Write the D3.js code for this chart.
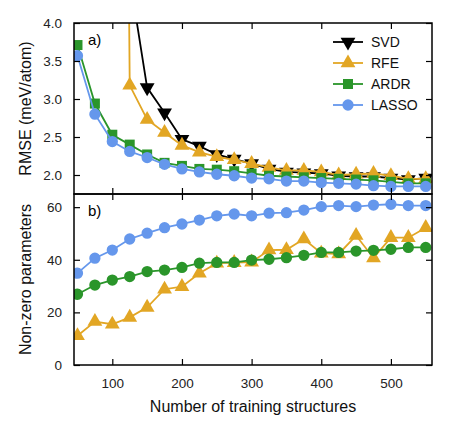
<!DOCTYPE html>
<html>
<head>
<meta charset="utf-8">
<script src="https://cdn.jsdelivr.net/npm/d3@7"></script>
<style>
  html, body { margin: 0; padding: 0; background: #fff; }
  svg { display: block; font-family: "Liberation Sans", Arial, Helvetica, sans-serif; }
</style>
</head>
<body>
<svg id="chart" width="450" height="435"></svg>
<script>
// ---- data ----
const trainingSizes = [50,75,100,125,150,175,200,225,250,275,300,325,350,375,400,425,450,475,500,525,550];
const rmseSVD   = [null,null,null,4.6,3.15,2.82,2.47,2.38,2.27,2.21,2.15,2.08,2.04,2.03,2.02,1.99,1.98,1.98,1.96,1.94,1.96];
const rmseRFE   = [null,null,30,3.18,2.73,2.56,2.39,2.30,2.24,2.20,2.15,2.10,2.06,2.06,2.04,2.00,2.01,2.02,1.99,1.95,1.95];
const rmseARDR  = [3.71,2.94,2.53,2.40,2.27,2.16,2.12,2.08,2.07,2.05,2.02,1.99,1.98,1.97,1.96,1.95,1.94,1.93,1.91,1.89,1.89];
const rmseLASSO = [3.57,2.80,2.44,2.31,2.23,2.14,2.08,2.04,2.01,1.99,1.96,1.95,1.92,1.92,1.90,1.89,1.88,1.86,1.85,1.85,1.85];
const nzRFE   = [11.1,16.5,15.5,18.1,21.9,28.8,29.8,34.9,38.7,38.9,39.1,43.7,43.8,47.9,42.5,42.2,49.2,40.7,48.4,48.4,52.2];
const nzARDR  = [26.9,30.4,32.3,33.6,35.5,36.1,37.1,38.7,39.0,39.0,39.9,40.2,40.8,41.7,42.8,42.8,43.3,43.6,44.0,44.7,44.7];
const nzLASSO = [34.9,40.6,43.7,47.9,50.1,52.2,53.6,55.1,56.7,57.4,56.7,57.7,57.9,58.9,60.2,60.6,60.2,60.8,61.1,60.6,60.6];
const xTicks = [100,200,300,400,500];
const rmseTicks = [2.0,2.5,3.0,3.5,4.0];
const nzTicks = [0,20,40,60];
const methods = ["SVD","RFE","ARDR","LASSO"];
const colors = {SVD:"#000000", RFE:"#e2a624", ARDR:"#2a952a", LASSO:"#6597ec"};
const symbolsTop = {SVD:"tridown", RFE:"triup", ARDR:"square", LASSO:"circle"};
const symbolsBot = {RFE:"triup", ARDR:"circle", LASSO:"circle"};

// ---- layout ----
const L = 74, R = 432, T1 = 23, B1 = 194, T2 = 194, B2 = 365;
const svg = d3.select("#chart");
const x = d3.scaleLinear().domain([45, 559]).range([L, R]);
const yTop = d3.scaleLinear().domain([1.75, 4.0]).range([B1, T1]);
const yBot = d3.scaleLinear().domain([0, 65]).range([B2, T2]);
const font = "13.5px";

function symPath(kind) {
  if (kind === "circle") return d3.symbol(d3.symbolCircle, 100)();
  if (kind === "square") return d3.symbol(d3.symbolSquare, 100)();
  return d3.symbol(d3.symbolTriangle, 95)();
}
function symTransform(kind, px, py) {
  let t = `translate(${px},${py})`;
  if (kind === "tridown") t += " rotate(180)";
  return t;
}

const defs = svg.append("defs");
defs.append("clipPath").attr("id","clipTop").append("rect")
  .attr("x", L).attr("y", T1).attr("width", R-L).attr("height", B1-T1);
defs.append("clipPath").attr("id","clipBot").append("rect")
  .attr("x", L).attr("y", T2).attr("width", R-L).attr("height", B2-T2);

function drawSeries(g, yScale, name, values, kind) {
  const pts = trainingSizes.map((s,i)=>({x:s, y:values[i]})).filter(d=>d.y!=null);
  const line = d3.line().x(d=>x(d.x)).y(d=>yScale(d.y));
  g.append("path").datum(pts).attr("d", line)
    .attr("fill","none").attr("stroke", colors[name]).attr("stroke-width", 1.8);
  g.selectAll(null).data(pts).enter().append("path")
    .attr("d", symPath(kind))
    .attr("transform", d=>symTransform(kind, x(d.x), yScale(d.y)))
    .attr("fill", colors[name]);
}

// top panel
const gTop = svg.append("g").attr("clip-path","url(#clipTop)");
drawSeries(gTop, yTop, "SVD", rmseSVD, symbolsTop.SVD);
drawSeries(gTop, yTop, "RFE", rmseRFE, symbolsTop.RFE);
drawSeries(gTop, yTop, "ARDR", rmseARDR, symbolsTop.ARDR);
drawSeries(gTop, yTop, "LASSO", rmseLASSO, symbolsTop.LASSO);

// bottom panel
const gBot = svg.append("g").attr("clip-path","url(#clipBot)");
drawSeries(gBot, yBot, "RFE", nzRFE, symbolsBot.RFE);
drawSeries(gBot, yBot, "ARDR", nzARDR, symbolsBot.ARDR);
drawSeries(gBot, yBot, "LASSO", nzLASSO, symbolsBot.LASSO);

// axes
function styleAxis(g) {
  g.select(".domain").remove();
  g.selectAll(".tick line").attr("stroke","#000").attr("stroke-width",1.2);
  g.selectAll(".tick text").attr("font-size", font).attr("fill","#222")
    .attr("font-family", "Liberation Sans, Arial, sans-serif");
}
const tk = 6;
// top panel
svg.append("g").attr("transform",`translate(0,${B1})`)
  .call(d3.axisBottom(x).tickValues(xTicks).tickSize(-tk).tickFormat("")).call(styleAxis);
svg.append("g").attr("transform",`translate(0,${T1})`)
  .call(d3.axisTop(x).tickValues(xTicks).tickSize(-tk).tickFormat("")).call(styleAxis);
svg.append("g").attr("transform",`translate(${L},0)`)
  .call(d3.axisLeft(yTop).tickValues(rmseTicks).tickSize(-tk).tickPadding(12).tickFormat(d3.format(".1f"))).call(styleAxis);
svg.append("g").attr("transform",`translate(${R},0)`)
  .call(d3.axisRight(yTop).tickValues(rmseTicks).tickSize(-tk).tickFormat("")).call(styleAxis);
// bottom panel
svg.append("g").attr("transform",`translate(0,${B2})`)
  .call(d3.axisBottom(x).tickValues(xTicks).tickSize(-tk).tickPadding(13).tickFormat(d3.format("d"))).call(styleAxis);
svg.append("g").attr("transform",`translate(0,${T2})`)
  .call(d3.axisTop(x).tickValues(xTicks).tickSize(-tk).tickFormat("")).call(styleAxis);
svg.append("g").attr("transform",`translate(${L},0)`)
  .call(d3.axisLeft(yBot).tickValues(nzTicks).tickSize(-tk).tickPadding(12).tickFormat(d3.format("d"))).call(styleAxis);
svg.append("g").attr("transform",`translate(${R},0)`)
  .call(d3.axisRight(yBot).tickValues(nzTicks).tickSize(-tk).tickFormat("")).call(styleAxis);

// frames
svg.append("rect").attr("x",L).attr("y",T1).attr("width",R-L).attr("height",B1-T1)
  .attr("fill","none").attr("stroke","#000").attr("stroke-width",1.5);
svg.append("rect").attr("x",L).attr("y",T2).attr("width",R-L).attr("height",B2-T2)
  .attr("fill","none").attr("stroke","#000").attr("stroke-width",1.5);

// panel labels
svg.append("text").attr("x",88).attr("y",45).attr("font-size","15px").text("a)");
svg.append("text").attr("x",88).attr("y",216).attr("font-size","15px").text("b)");

// axis labels
svg.append("text").attr("x",(L+R)/2).attr("y",412).attr("text-anchor","middle")
  .attr("font-size","16px").attr("fill","#111").text("Number of training structures");
svg.append("text").attr("transform",`translate(31,${(T1+B1)/2}) rotate(-90)`)
  .attr("text-anchor","middle").attr("font-size","16px").attr("fill","#111").text("RMSE (meV/atom)");
svg.append("text").attr("transform",`translate(31,${(T2+B2)/2}) rotate(-90)`)
  .attr("text-anchor","middle").attr("font-size","16px").attr("fill","#111").text("Non-zero parameters");

// legend
const legendRows = [42, 63, 84, 105];
const lg = svg.append("g");
methods.forEach((m,i)=>{
  const yy = legendRows[i];
  lg.append("line").attr("x1",333).attr("x2",363).attr("y1",yy).attr("y2",yy)
    .attr("stroke",colors[m]).attr("stroke-width",1.8);
  lg.append("path").attr("d", symPath(symbolsTop[m]))
    .attr("transform", symTransform(symbolsTop[m], 348, yy)).attr("fill", colors[m]);
  lg.append("text").attr("x",371).attr("y",yy+5).attr("font-size","14px").attr("fill","#111").text(m);
});
</script>
</body>
</html>
